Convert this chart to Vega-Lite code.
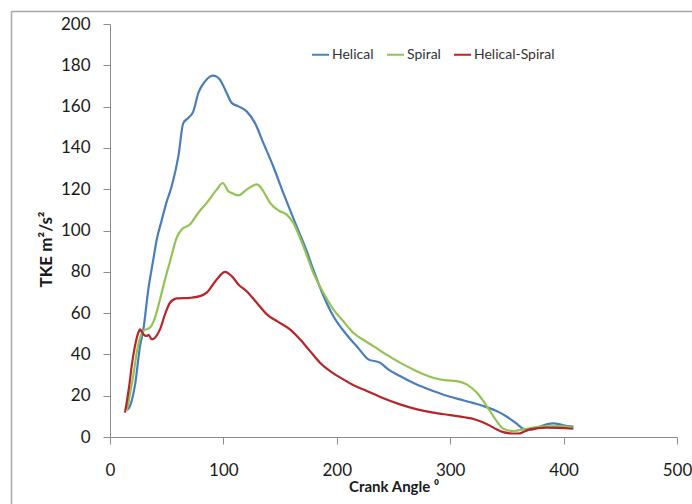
{
  "$schema": "https://vega.github.io/schema/vega-lite/v6.json",
  "width": 567,
  "height": 413,
  "autosize": "none",
  "padding": {"left": 110, "top": 24, "right": 15, "bottom": 67},
  "background": "white",
  "config": {
    "view": {"stroke": null},
    "font": "Lato",
    "axis": {
      "grid": false,
      "labelFlush": false,
      "domainColor": "#8c8c8c",
      "tickColor": "#8c8c8c",
      "tickSize": 7,
      "labelFont": "Lato",
      "labelFontSize": 17,
      "labelColor": "#1a1a1a",
      "titleFont": "Lato",
      "titleFontSize": 15,
      "titleFontWeight": "bold",
      "titleColor": "#1a1a1a"
    }
  },
  "datasets": {
    "frame": [{"name": "frame"}],
    "tke": [
      {"a": 15, "t": 13, "s": "Helical"},
      {"a": 17.6, "t": 15, "s": "Helical"},
      {"a": 22, "t": 25, "s": "Helical"},
      {"a": 26.5, "t": 44, "s": "Helical"},
      {"a": 29.4, "t": 52, "s": "Helical"},
      {"a": 33.8, "t": 71.5, "s": "Helical"},
      {"a": 38.2, "t": 86, "s": "Helical"},
      {"a": 41.2, "t": 95.5, "s": "Helical"},
      {"a": 45.6, "t": 105, "s": "Helical"},
      {"a": 50, "t": 114, "s": "Helical"},
      {"a": 54.4, "t": 121.4, "s": "Helical"},
      {"a": 60.3, "t": 136, "s": "Helical"},
      {"a": 64.6, "t": 152, "s": "Helical"},
      {"a": 69, "t": 154.5, "s": "Helical"},
      {"a": 73.5, "t": 157.7, "s": "Helical"},
      {"a": 77.9, "t": 166.6, "s": "Helical"},
      {"a": 83.8, "t": 172.2, "s": "Helical"},
      {"a": 88, "t": 174.5, "s": "Helical"},
      {"a": 91.1, "t": 175, "s": "Helical"},
      {"a": 94, "t": 174.5, "s": "Helical"},
      {"a": 97, "t": 173, "s": "Helical"},
      {"a": 100, "t": 170, "s": "Helical"},
      {"a": 102.9, "t": 166.6, "s": "Helical"},
      {"a": 107.3, "t": 161.8, "s": "Helical"},
      {"a": 113.2, "t": 160.1, "s": "Helical"},
      {"a": 120.5, "t": 157.7, "s": "Helical"},
      {"a": 127.9, "t": 152, "s": "Helical"},
      {"a": 135.2, "t": 142.4, "s": "Helical"},
      {"a": 144, "t": 131, "s": "Helical"},
      {"a": 152.8, "t": 118.2, "s": "Helical"},
      {"a": 164.6, "t": 102, "s": "Helical"},
      {"a": 173.5, "t": 90, "s": "Helical"},
      {"a": 179.3, "t": 81, "s": "Helical"},
      {"a": 187, "t": 70, "s": "Helical"},
      {"a": 197, "t": 58.5, "s": "Helical"},
      {"a": 208, "t": 50, "s": "Helical"},
      {"a": 219, "t": 43, "s": "Helical"},
      {"a": 227.8, "t": 37.6, "s": "Helical"},
      {"a": 238, "t": 36, "s": "Helical"},
      {"a": 246, "t": 32.5, "s": "Helical"},
      {"a": 255.7, "t": 29.5, "s": "Helical"},
      {"a": 270, "t": 25.5, "s": "Helical"},
      {"a": 285, "t": 22.3, "s": "Helical"},
      {"a": 300, "t": 19.5, "s": "Helical"},
      {"a": 308.6, "t": 18.2, "s": "Helical"},
      {"a": 320, "t": 16.5, "s": "Helical"},
      {"a": 329.2, "t": 15, "s": "Helical"},
      {"a": 337, "t": 13.5, "s": "Helical"},
      {"a": 343.9, "t": 11.8, "s": "Helical"},
      {"a": 350, "t": 9.8, "s": "Helical"},
      {"a": 355.6, "t": 7.7, "s": "Helical"},
      {"a": 360, "t": 5.8, "s": "Helical"},
      {"a": 364.5, "t": 4, "s": "Helical"},
      {"a": 369, "t": 3.6, "s": "Helical"},
      {"a": 373.3, "t": 3.7, "s": "Helical"},
      {"a": 380, "t": 5.2, "s": "Helical"},
      {"a": 385, "t": 6.1, "s": "Helical"},
      {"a": 391, "t": 6.6, "s": "Helical"},
      {"a": 400, "t": 5.7, "s": "Helical"},
      {"a": 408.6, "t": 5, "s": "Helical"},

      {"a": 15, "t": 13, "s": "Spiral"},
      {"a": 20, "t": 28, "s": "Spiral"},
      {"a": 25, "t": 45, "s": "Spiral"},
      {"a": 29.4, "t": 51.3, "s": "Spiral"},
      {"a": 35.3, "t": 53, "s": "Spiral"},
      {"a": 39.7, "t": 57.8, "s": "Spiral"},
      {"a": 44.1, "t": 66.6, "s": "Spiral"},
      {"a": 48.5, "t": 76.2, "s": "Spiral"},
      {"a": 52.9, "t": 85, "s": "Spiral"},
      {"a": 58.8, "t": 96.5, "s": "Spiral"},
      {"a": 63.2, "t": 100.5, "s": "Spiral"},
      {"a": 70.5, "t": 102.9, "s": "Spiral"},
      {"a": 77.9, "t": 108.6, "s": "Spiral"},
      {"a": 85.3, "t": 113.4, "s": "Spiral"},
      {"a": 94.1, "t": 119.8, "s": "Spiral"},
      {"a": 99.4, "t": 123, "s": "Spiral"},
      {"a": 104.3, "t": 119, "s": "Spiral"},
      {"a": 108, "t": 118, "s": "Spiral"},
      {"a": 113.2, "t": 117, "s": "Spiral"},
      {"a": 120.5, "t": 119.8, "s": "Spiral"},
      {"a": 129.4, "t": 122.3, "s": "Spiral"},
      {"a": 132, "t": 121.5, "s": "Spiral"},
      {"a": 135.2, "t": 119, "s": "Spiral"},
      {"a": 141.1, "t": 113.4, "s": "Spiral"},
      {"a": 149.9, "t": 109.3, "s": "Spiral"},
      {"a": 155.8, "t": 107.7, "s": "Spiral"},
      {"a": 161.6, "t": 103.7, "s": "Spiral"},
      {"a": 170.5, "t": 92.4, "s": "Spiral"},
      {"a": 179.3, "t": 79.5, "s": "Spiral"},
      {"a": 188, "t": 70, "s": "Spiral"},
      {"a": 197, "t": 61.8, "s": "Spiral"},
      {"a": 205, "t": 56.5, "s": "Spiral"},
      {"a": 214.5, "t": 50.5, "s": "Spiral"},
      {"a": 226.4, "t": 46, "s": "Spiral"},
      {"a": 232.2, "t": 44, "s": "Spiral"},
      {"a": 245, "t": 39.5, "s": "Spiral"},
      {"a": 255.7, "t": 36, "s": "Spiral"},
      {"a": 270, "t": 32, "s": "Spiral"},
      {"a": 285, "t": 28.7, "s": "Spiral"},
      {"a": 295, "t": 27.5, "s": "Spiral"},
      {"a": 305.7, "t": 27.1, "s": "Spiral"},
      {"a": 314.5, "t": 25.5, "s": "Spiral"},
      {"a": 323.4, "t": 21.5, "s": "Spiral"},
      {"a": 332.2, "t": 15, "s": "Spiral"},
      {"a": 341, "t": 7.7, "s": "Spiral"},
      {"a": 346.9, "t": 4, "s": "Spiral"},
      {"a": 355.7, "t": 2.9, "s": "Spiral"},
      {"a": 367.4, "t": 4, "s": "Spiral"},
      {"a": 379.2, "t": 5, "s": "Spiral"},
      {"a": 396.8, "t": 5.3, "s": "Spiral"},
      {"a": 408.6, "t": 4.5, "s": "Spiral"},

      {"a": 13.2, "t": 11.8, "s": "Helical-Spiral"},
      {"a": 14.7, "t": 16.6, "s": "Helical-Spiral"},
      {"a": 17, "t": 25, "s": "Helical-Spiral"},
      {"a": 19.1, "t": 34.3, "s": "Helical-Spiral"},
      {"a": 22, "t": 44, "s": "Helical-Spiral"},
      {"a": 25, "t": 50.5, "s": "Helical-Spiral"},
      {"a": 26.5, "t": 52.1, "s": "Helical-Spiral"},
      {"a": 29.4, "t": 49.7, "s": "Helical-Spiral"},
      {"a": 32.4, "t": 48.9, "s": "Helical-Spiral"},
      {"a": 34, "t": 49.5, "s": "Helical-Spiral"},
      {"a": 36.8, "t": 47.3, "s": "Helical-Spiral"},
      {"a": 39.7, "t": 48.1, "s": "Helical-Spiral"},
      {"a": 44.1, "t": 52.1, "s": "Helical-Spiral"},
      {"a": 48.5, "t": 59.4, "s": "Helical-Spiral"},
      {"a": 52.9, "t": 65, "s": "Helical-Spiral"},
      {"a": 58.8, "t": 67.1, "s": "Helical-Spiral"},
      {"a": 70.5, "t": 67.4, "s": "Helical-Spiral"},
      {"a": 79.4, "t": 68.2, "s": "Helical-Spiral"},
      {"a": 85.3, "t": 69.9, "s": "Helical-Spiral"},
      {"a": 94.1, "t": 76.3, "s": "Helical-Spiral"},
      {"a": 101.4, "t": 80, "s": "Helical-Spiral"},
      {"a": 107.3, "t": 77.9, "s": "Helical-Spiral"},
      {"a": 113.2, "t": 73.9, "s": "Helical-Spiral"},
      {"a": 120.5, "t": 70.6, "s": "Helical-Spiral"},
      {"a": 129.4, "t": 65, "s": "Helical-Spiral"},
      {"a": 138.3, "t": 59.4, "s": "Helical-Spiral"},
      {"a": 147.2, "t": 56.1, "s": "Helical-Spiral"},
      {"a": 158.7, "t": 52.1, "s": "Helical-Spiral"},
      {"a": 167.5, "t": 47.3, "s": "Helical-Spiral"},
      {"a": 176.4, "t": 41.6, "s": "Helical-Spiral"},
      {"a": 185.2, "t": 36, "s": "Helical-Spiral"},
      {"a": 195, "t": 31.5, "s": "Helical-Spiral"},
      {"a": 205.7, "t": 27.9, "s": "Helical-Spiral"},
      {"a": 215, "t": 25, "s": "Helical-Spiral"},
      {"a": 226.4, "t": 22.3, "s": "Helical-Spiral"},
      {"a": 240, "t": 19, "s": "Helical-Spiral"},
      {"a": 255.7, "t": 15.8, "s": "Helical-Spiral"},
      {"a": 270, "t": 13.5, "s": "Helical-Spiral"},
      {"a": 285, "t": 11.8, "s": "Helical-Spiral"},
      {"a": 300, "t": 10.6, "s": "Helical-Spiral"},
      {"a": 314.5, "t": 9.4, "s": "Helical-Spiral"},
      {"a": 322, "t": 8.5, "s": "Helical-Spiral"},
      {"a": 329.2, "t": 7, "s": "Helical-Spiral"},
      {"a": 335, "t": 5.5, "s": "Helical-Spiral"},
      {"a": 341, "t": 3.7, "s": "Helical-Spiral"},
      {"a": 346, "t": 2.5, "s": "Helical-Spiral"},
      {"a": 352.7, "t": 1.8, "s": "Helical-Spiral"},
      {"a": 357, "t": 1.7, "s": "Helical-Spiral"},
      {"a": 361.6, "t": 1.8, "s": "Helical-Spiral"},
      {"a": 366, "t": 2.8, "s": "Helical-Spiral"},
      {"a": 370.4, "t": 3.7, "s": "Helical-Spiral"},
      {"a": 385, "t": 4.5, "s": "Helical-Spiral"},
      {"a": 408.6, "t": 4, "s": "Helical-Spiral"}
    ]
  },
  "layer": [
    {
      "data": {"name": "frame"},
      "mark": {"type": "rule", "stroke": "#a6a6a6", "strokeWidth": 1.5, "clip": false},
      "encoding": {
        "x": {"datum": -86.86, "type": "quantitative", "scale": {"domain": [0, 500], "nice": false, "zero": false}},
        "x2": {"datum": 530},
        "y": {"datum": 206.05, "type": "quantitative", "scale": {"domain": [0, 200], "nice": false}}
      }
    },
    {
      "data": {"name": "frame"},
      "mark": {"type": "rule", "stroke": "#a6a6a6", "strokeWidth": 1.5, "clip": false},
      "encoding": {
        "x": {"datum": -86.86, "type": "quantitative"},
        "y": {"datum": 206.05, "type": "quantitative"},
        "y2": {"datum": -40}
      }
    },
    {
      "data": {"name": "tke"},
      "mark": {"type": "line", "strokeWidth": 2.2, "interpolate": "monotone"},
      "encoding": {
        "x": {
          "field": "a",
          "type": "quantitative",
          "scale": {"domain": [0, 500], "nice": false, "zero": false},
          "axis": {"values": [0, 100, 200, 300, 400, 500], "labelPadding": 18, "title": "Crank Angle ⁰", "titlePadding": 1}
        },
        "y": {
          "field": "t",
          "type": "quantitative",
          "scale": {"domain": [0, 200], "nice": false},
          "axis": {"values": [0, 20, 40, 60, 80, 100, 120, 140, 160, 180, 200], "labelPadding": 13, "title": "TKE m²/s²", "titlePadding": 5, "titleFontSize": 17, "titleY": 225}
        },
        "color": {
          "field": "s",
          "type": "nominal",
          "sort": ["Helical", "Spiral", "Helical-Spiral"],
          "scale": {"domain": ["Helical", "Spiral", "Helical-Spiral"], "range": ["#4A7EBB", "#92C353", "#B5262B"]},
          "legend": {
            "title": null,
            "orient": "none",
            "legendX": 201,
            "legendY": 21,
            "direction": "horizontal",
            "symbolType": "stroke",
            "symbolSize": 289,
            "symbolStrokeWidth": 2,
            "labelOffset": 2,
            "columnPadding": 9,
            "labelFont": "Lato",
            "labelFontSize": 14,
            "labelColor": "#333333",
            "padding": 0
          }
        }
      }
    }
  ]
}
